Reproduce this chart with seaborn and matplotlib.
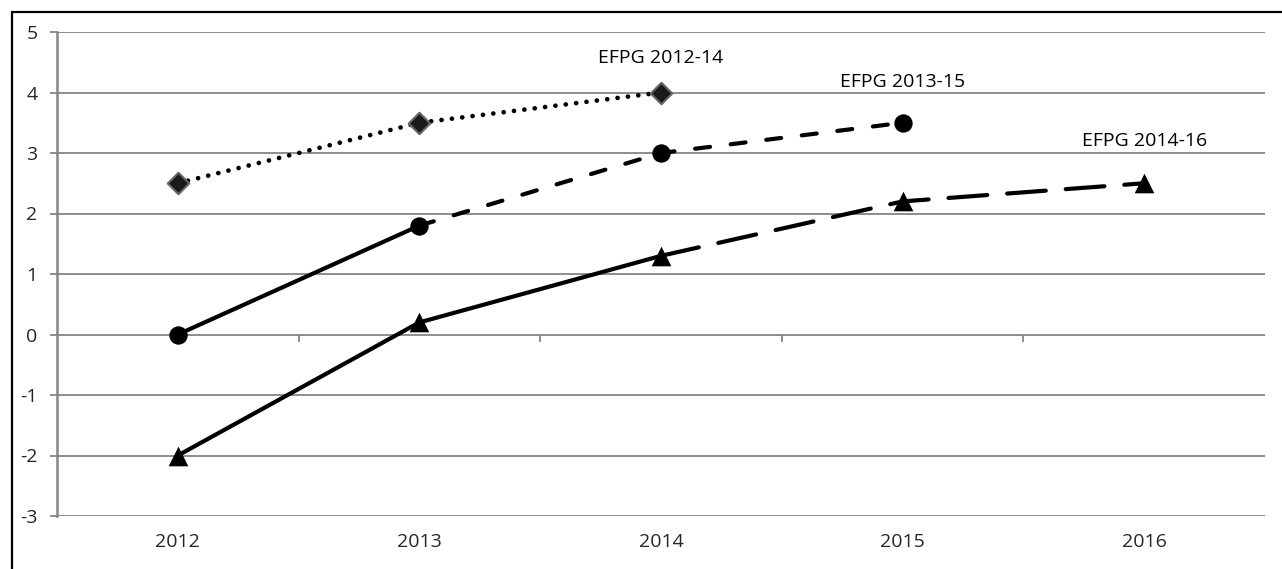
import numpy as np
import pandas as pd
import matplotlib
matplotlib.use('Agg')
import matplotlib.pyplot as plt
import seaborn as sns
from matplotlib.lines import Line2D

# --- data ---
years = [2012, 2013, 2014, 2015, 2016]
efpg_2012_14 = [2.5, 3.5, 4.0]             # 2012..2014
efpg_2013_15 = [0.0, 1.8, 3.0, 3.5]        # 2012..2015
efpg_2014_16 = [-2.0, 0.2, 1.3, 2.2, 2.5]  # 2012..2016
series_names = ['EFPG 2012-14', 'EFPG 2013-15', 'EFPG 2014-16']
y_ticks = [-3, -2, -1, 0, 1, 2, 3, 4, 5]

sns.set_style('white')
plt.rcParams['font.family'] = ['Open Sans', 'DejaVu Sans']
plt.rcParams['axes.unicode_minus'] = False

fig = plt.figure(figsize=(12.82, 5.69), dpi=100)
ax = fig.add_axes([57 / 1282, 1 - 516 / 569, (1265 - 57) / 1282, (516 - 32) / 569])

grey = '#858585'
lw = 3

df1 = pd.DataFrame({'year': years[:3], 'value': efpg_2012_14})
df2 = pd.DataFrame({'year': years[:4], 'value': efpg_2013_15})
df3 = pd.DataFrame({'year': years, 'value': efpg_2014_16})

# EFPG 2012-14: dotted with diamonds
sns.lineplot(data=df1, x='year', y='value', ax=ax, color='black', lw=3.4,
             linestyle=(0, (0.01, 2.2)), dash_capstyle='round', zorder=3)
sns.scatterplot(data=df1, x='year', y='value', ax=ax, marker='D', s=120,
                color='#1a1a1a', edgecolor='#666666', linewidth=1.5, zorder=4)

# EFPG 2013-15: solid then dashed, circles
sns.lineplot(data=df2.iloc[:2], x='year', y='value', ax=ax, color='black', lw=lw,
             solid_capstyle='round', zorder=3)
sns.lineplot(data=df2.iloc[1:], x='year', y='value', ax=ax, color='black', lw=lw,
             linestyle=(0, (3.6, 5.0)), dash_capstyle='round', zorder=3)
sns.scatterplot(data=df2, x='year', y='value', ax=ax, marker='o', s=175,
                color='black', edgecolor='black', linewidth=0, zorder=4)

# EFPG 2014-16: solid then long dashed, triangles
sns.lineplot(data=df3.iloc[:3], x='year', y='value', ax=ax, color='black', lw=lw,
             solid_capstyle='round', zorder=3)
sns.lineplot(data=df3.iloc[2:], x='year', y='value', ax=ax, color='black', lw=lw,
             linestyle=(0, (9.3, 4.8)), dash_capstyle='round', zorder=3)
sns.scatterplot(data=df3, x='year', y='value', ax=ax, marker='^', s=200,
                color='black', edgecolor='black', linewidth=0, zorder=4)

# series labels above the last point of each series
for df, name, off in zip([df1, df2, df3], series_names, [24.5, 29.5, 30.5]):
    ax.annotate(name, (df['year'].iloc[-1], df['value'].iloc[-1]),
                xytext=(0, off), textcoords='offset points',
                ha='center', va='center', fontsize=14, color='black')

# axes styling
ax.set_xlim(2011.5, 2016.5)
ax.set_ylim(-3, 5)
ax.set_yticks(y_ticks)
ax.set_xticks(years)
ax.set_xlabel('')
ax.set_ylabel('')
ax.grid(axis='y', color=grey, lw=1.3)
ax.grid(axis='x', visible=False)
ax.set_axisbelow(True)
for side in ['top', 'right', 'bottom']:
    ax.spines[side].set_visible(False)
ax.spines['left'].set_color(grey)
ax.spines['left'].set_linewidth(1.8)
ax.tick_params(axis='y', direction='out', length=5, width=1.3, color=grey,
               left=True, pad=9, labelsize=14)
ax.tick_params(axis='x', length=0, pad=12, labelsize=14)

# category axis crossing at y = 0, ticks between categories
sec = ax.secondary_xaxis(0, transform=ax.transData)
sec.set_xticks([y + 0.5 for y in years[:-1]])
sec.set_xticklabels([])
sec.tick_params(direction='out', length=5, width=1.3, color=grey)
sec.spines['bottom'].set_visible(False)

# chart frame (left and top edges visible)
fig.add_artist(Line2D([11.5 / 1282, 11.5 / 1282], [0, 1 - 11.5 / 569],
                      color='black', lw=1.6, transform=fig.transFigure))
fig.add_artist(Line2D([11.5 / 1282, 1], [1 - 11.5 / 569, 1 - 11.5 / 569],
                      color='black', lw=1.6, transform=fig.transFigure))

fig.savefig('out.png', dpi=100)
